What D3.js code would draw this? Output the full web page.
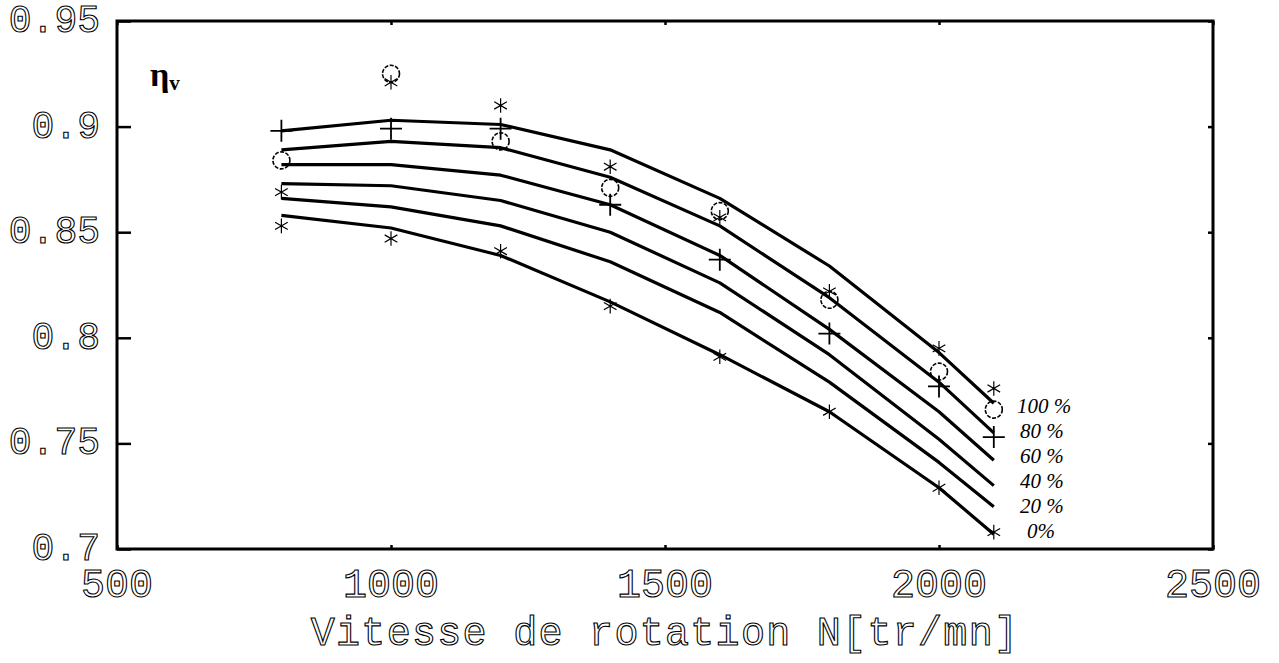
<!DOCTYPE html>
<html>
<head>
<meta charset="utf-8">
<script src="https://cdn.jsdelivr.net/npm/d3@7"></script>
<style>
  body { margin: 0; background: #fff; }
  svg { display: block; }
</style>
</head>
<body>
<svg id="chart" width="1279" height="663"></svg>
<script>
// Rotation speed (tr/mn) at which the fitted curves are evaluated
const speeds = [800, 1000, 1200, 1400, 1600, 1800, 2000, 2100];

// Volumetric efficiency curves, one per load level
const loadLabels = ["100 %", "80 %", "60 %", "40 %", "20 %", "0%"];
const eta100 = [0.898, 0.903, 0.901, 0.889, 0.866, 0.834, 0.793, 0.769];
const eta80  = [0.889, 0.893, 0.890, 0.876, 0.853, 0.819, 0.779, 0.755];
const eta60  = [0.882, 0.882, 0.877, 0.863, 0.839, 0.804, 0.765, 0.742];
const eta40  = [0.873, 0.872, 0.865, 0.850, 0.826, 0.792, 0.752, 0.730];
const eta20  = [0.866, 0.862, 0.853, 0.836, 0.812, 0.779, 0.741, 0.720];
const eta0   = [0.858, 0.852, 0.839, 0.817, 0.792, 0.765, 0.729, 0.707];

// Measured points
const measCircle = [0.884, 0.925, 0.893, 0.871, 0.860, 0.818, 0.784, 0.766];
const measPlus   = [0.898, 0.899, 0.899, 0.863, 0.837, 0.802, 0.777, 0.753];
const measStarHi = [0.869, 0.921, 0.910, 0.881, 0.857, 0.822, 0.795, 0.776];
const measStarLo = [0.853, 0.847, 0.841, 0.815, 0.791, 0.765, 0.729, 0.708];

// Axis ticks
const xTicks = [500, 1000, 1500, 2000, 2500];
const yTicks = [0.7, 0.75, 0.8, 0.85, 0.9, 0.95];
const yTickLabels = ["0.7", "0.75", "0.8", "0.85", "0.9", "0.95"];

const svg = d3.select("#chart");
const plotL = 117, plotR = 1213, plotT = 21, plotB = 549;

const x = d3.scaleLinear().domain([500, 2500]).range([plotL, plotR]);
const y = d3.scaleLinear().domain([0.7, 0.95]).range([plotB, plotT]);

const curves = [eta100, eta80, eta60, eta40, eta20, eta0];

// Fitted curves
const line = d3.line()
  .x((d, i) => x(speeds[i]))
  .y(d => y(d))
  .curve(d3.curveLinear);

svg.append("g")
  .selectAll("path")
  .data(curves)
  .join("path")
  .attr("d", line)
  .attr("fill", "none")
  .attr("stroke", "#000")
  .attr("stroke-width", 3.2)
  .attr("stroke-linejoin", "round");

// Marker glyphs
const plusPath = "M-11,0H11M0,-11V11";
const starPath = d3.symbol().type(d3.symbolAsterisk).size(150);

const marks = svg.append("g");

marks.selectAll("circle")
  .data(measCircle)
  .join("circle")
  .attr("cx", (d, i) => x(speeds[i]))
  .attr("cy", d => y(d))
  .attr("r", 8.5)
  .attr("fill", "none")
  .attr("stroke", "#000")
  .attr("stroke-width", 1.6)
  .attr("stroke-dasharray", "4,1.5");

marks.selectAll("path.plus")
  .data(measPlus)
  .join("path")
  .attr("class", "plus")
  .attr("transform", (d, i) => `translate(${x(speeds[i])},${y(d)})`)
  .attr("d", plusPath)
  .attr("fill", "none")
  .attr("stroke", "#000")
  .attr("stroke-width", 1.8);

marks.selectAll("path.star")
  .data(measStarHi.concat(measStarLo))
  .join("path")
  .attr("class", "star")
  .attr("transform", (d, i) => `translate(${x(speeds[i % speeds.length])},${y(d)})`)
  .attr("d", starPath)
  .attr("fill", "none")
  .attr("stroke", "#000")
  .attr("stroke-width", 1.2);

// Frame with inward ticks
const xAxisB = d3.axisBottom(x).tickValues(xTicks).tickSize(-4).tickFormat("");
const xAxisT = d3.axisTop(x).tickValues(xTicks).tickSize(-4).tickFormat("");
const yAxisL = d3.axisLeft(y).tickValues(yTicks).tickSize(-14).tickFormat("");
const yAxisR = d3.axisRight(y).tickValues(yTicks).tickSize(-5).tickFormat("");

function styleAxis(g) {
  g.select(".domain").remove();
  g.selectAll(".tick line").attr("stroke", "#000").attr("stroke-width", 2.5);
}

svg.append("g").attr("transform", `translate(0,${plotB})`).call(xAxisB).call(styleAxis);
svg.append("g").attr("transform", `translate(0,${plotT})`).call(xAxisT).call(styleAxis);
svg.append("g").attr("transform", `translate(${plotL},0)`).call(yAxisL).call(styleAxis);
svg.append("g").attr("transform", `translate(${plotR},0)`).call(yAxisR).call(styleAxis);
svg.append("rect")
  .attr("x", plotL).attr("y", plotT)
  .attr("width", plotR - plotL).attr("height", plotB - plotT)
  .attr("fill", "none").attr("stroke", "#000").attr("stroke-width", 3);

// Tick labels in an outlined typewriter face
const tickFont = "'Liberation Mono', 'DejaVu Sans Mono', monospace";

function outlined(sel, size) {
  sel.attr("font-family", tickFont)
    .attr("font-size", size)
    .attr("fill", "#fff")
    .attr("stroke", "#000")
    .attr("stroke-width", 1.1);
}

svg.append("g")
  .selectAll("text")
  .data(xTicks)
  .join("text")
  .attr("x", d => x(d))
  .attr("y", 597)
  .attr("text-anchor", "middle")
  .call(outlined, 40)
  .text(d => d);

svg.append("g")
  .selectAll("text")
  .data(yTicks)
  .join("text")
  .attr("x", 100)
  .attr("y", d => y(d) + 11)
  .attr("text-anchor", "end")
  .call(outlined, 38)
  .text((d, i) => yTickLabels[i]);

// Axis title
svg.append("text")
  .attr("x", (plotL + plotR) / 2)
  .attr("y", 645)
  .attr("text-anchor", "middle")
  .attr("letter-spacing", 1.3)
  .call(outlined, 40)
  .text("Vitesse de rotation N[tr/mn]");

// Efficiency symbol
const eta = svg.append("text")
  .attr("x", 150)
  .attr("y", 86)
  .attr("font-family", "'Liberation Serif', 'DejaVu Serif', serif")
  .attr("font-weight", "bold")
  .attr("font-size", 34);
eta.append("tspan").text("η");
eta.append("tspan").attr("font-size", 21).attr("dy", 4).text("v");

// Load level labels at the end of each curve
const labelX = [1017, 1020, 1020, 1020, 1020, 1027];
svg.append("g")
  .selectAll("text")
  .data(loadLabels)
  .join("text")
  .attr("x", (d, i) => labelX[i])
  .attr("y", (d, i) => 413 + i * 25)
  .attr("font-family", "'Liberation Serif', 'DejaVu Serif', serif")
  .attr("font-style", "italic")
  .attr("font-size", 21)
  .text(d => d);
</script>
</body>
</html>
